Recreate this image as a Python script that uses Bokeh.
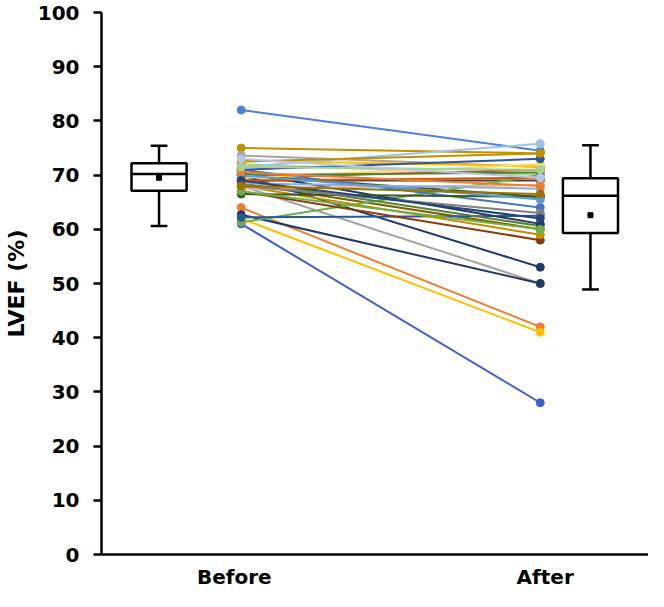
from bokeh.plotting import figure
from bokeh.models import Range1d, FixedTicker, ColumnDataSource
from bokeh.embed import file_html
from bokeh.resources import INLINE

# ---------------- data ----------------
groups = ["Before", "After"]

lvef_before = [82, 75, 73.6, 72.7, 72, 71.5, 70, 69.5, 69, 68.5, 68, 70, 64, 62.7,
               62, 61, 61.3, 62.2, 67, 68, 69, 70.5, 71, 67.5, 68.5, 69.5, 70, 71,
               66.5, 69, 70, 72.5, 67, 68, 70.5, 71.5, 69, 68, 73]
lvef_after = [74.5, 74, 71.5, 71.6, 70, 75.8, 66, 71, 69, 60, 50, 53, 42, 50,
              41, 28, 70, 62.5, 58, 59, 60.6, 61, 64, 68.2, 67.5, 72, 70.5, 73,
              66, 69.5, 65.5, 74, 60, 63, 68, 71, 62, 66.5, 69.5]

# box-plot statistics (Before, After)
whisker_low = [60.6, 48.9]
q1 = [67.1, 59.3]
median = [70.2, 66.2]
q3 = [72.2, 69.4]
whisker_high = [75.4, 75.5]
mean = [69.5, 62.6]

y_ticks = list(range(0, 101, 10))

# ---------------- style / layout ----------------
line_colors = ["#4F7FD8", "#BF9000", "#A5A5A5", "#FFC000", "#A9D18E", "#9DC3E6",
               "#375623", "#C55A11", "#404040", "#7F6000", "#A5A5A5", "#1F3864",
               "#ED7D31", "#203864", "#FFC000", "#4060C8", "#70AD47", "#2F5597",
               "#843C0C", "#BF9000", "#548235", "#1F3864", "#4472C4", "#F4B183",
               "#8FAADC", "#FFD966", "#548235", "#2F5597", "#385723", "#C55A11",
               "#5B9BD5", "#BF9000", "#70AD47", "#7F7F7F", "#ED7D31", "#A9D18E",
               "#264478", "#997300", "#B4C7E7"]

X_BOX = [58.5, 497]       # box-plot centres (Before, After)
X_PTS = [142, 446]        # paired-point columns (Before, After)
X_LBL = [135, 451]        # category label positions
BOX_W = 56
CAP_W = 17

p = figure(width=648, height=591, output_backend="svg", toolbar_location=None,
           x_range=Range1d(0, 556), y_range=Range1d(0, 100),
           min_border_left=92, min_border_right=0, min_border_top=12,
           min_border_bottom=32)
p.outline_line_color = None
p.grid.visible = False
p.background_fill_color = "white"
p.border_fill_color = "white"

# paired lines
src = ColumnDataSource(dict(
    xs=[[X_PTS[0], X_PTS[1]] for _ in lvef_before],
    ys=[[b, a] for b, a in zip(lvef_before, lvef_after)],
    color=line_colors,
))
p.multi_line("xs", "ys", source=src, line_color="color", line_width=2)
p.scatter([X_PTS[0]] * len(lvef_before), lvef_before, size=8,
          fill_color=line_colors, line_color=line_colors)
p.scatter([X_PTS[1]] * len(lvef_after), lvef_after, size=8,
          fill_color=line_colors, line_color=line_colors)

# box plots
bx = ColumnDataSource(dict(
    x=X_BOX, left=[x - BOX_W / 2 for x in X_BOX], right=[x + BOX_W / 2 for x in X_BOX],
    cl=[x - CAP_W / 2 for x in X_BOX], cr=[x + CAP_W / 2 for x in X_BOX],
    wl=whisker_low, q1=q1, med=median, q3=q3, wh=whisker_high, mean=mean,
))
p.segment("x", "wh", "x", "q3", source=bx, line_color="black", line_width=2.5)
p.segment("x", "wl", "x", "q1", source=bx, line_color="black", line_width=2.5)
p.segment("cl", "wh", "cr", "wh", source=bx, line_color="black", line_width=2.5)
p.segment("cl", "wl", "cr", "wl", source=bx, line_color="black", line_width=2.5)
p.quad(left="left", right="right", bottom="q1", top="q3", source=bx,
       fill_color="white", line_color="black", line_width=2.5)
p.segment("left", "med", "right", "med", source=bx, line_color="black", line_width=2.5)
p.scatter("x", "mean", source=bx, marker="square", size=5, fill_color="black",
          line_color="black")

# axes
ya = p.yaxis[0]
ya.ticker = FixedTicker(ticks=y_ticks)
ya.axis_label = "LVEF (%)"
ya.axis_label_text_font = "DejaVu Sans"
ya.axis_label_text_font_style = "bold"
ya.axis_label_text_font_size = "22px"
ya.axis_label_text_color = "black"
ya.axis_label_standoff = 6
ya.major_label_text_font = "DejaVu Sans"
ya.major_label_text_font_style = "bold"
ya.major_label_text_font_size = "20px"
ya.major_label_text_color = "black"
ya.major_label_standoff = 14
ya.axis_line_width = 2.5
ya.axis_line_color = "black"
ya.major_tick_line_width = 2.5
ya.major_tick_line_color = "black"
ya.major_tick_out = 8
ya.major_tick_in = 0
ya.minor_tick_line_color = None

xa = p.xaxis[0]
xa.ticker = FixedTicker(ticks=X_LBL)
xa.major_label_overrides = {X_LBL[0]: groups[0], X_LBL[1]: groups[1]}
xa.major_label_text_font = "DejaVu Sans"
xa.major_label_text_font_style = "bold"
xa.major_label_text_font_size = "20px"
xa.major_label_text_color = "black"
xa.major_label_standoff = 4
xa.axis_line_width = 2.5
xa.axis_line_color = "black"
xa.major_tick_line_color = None
xa.minor_tick_line_color = None

open("out.html", "w").write(file_html(p, INLINE))
